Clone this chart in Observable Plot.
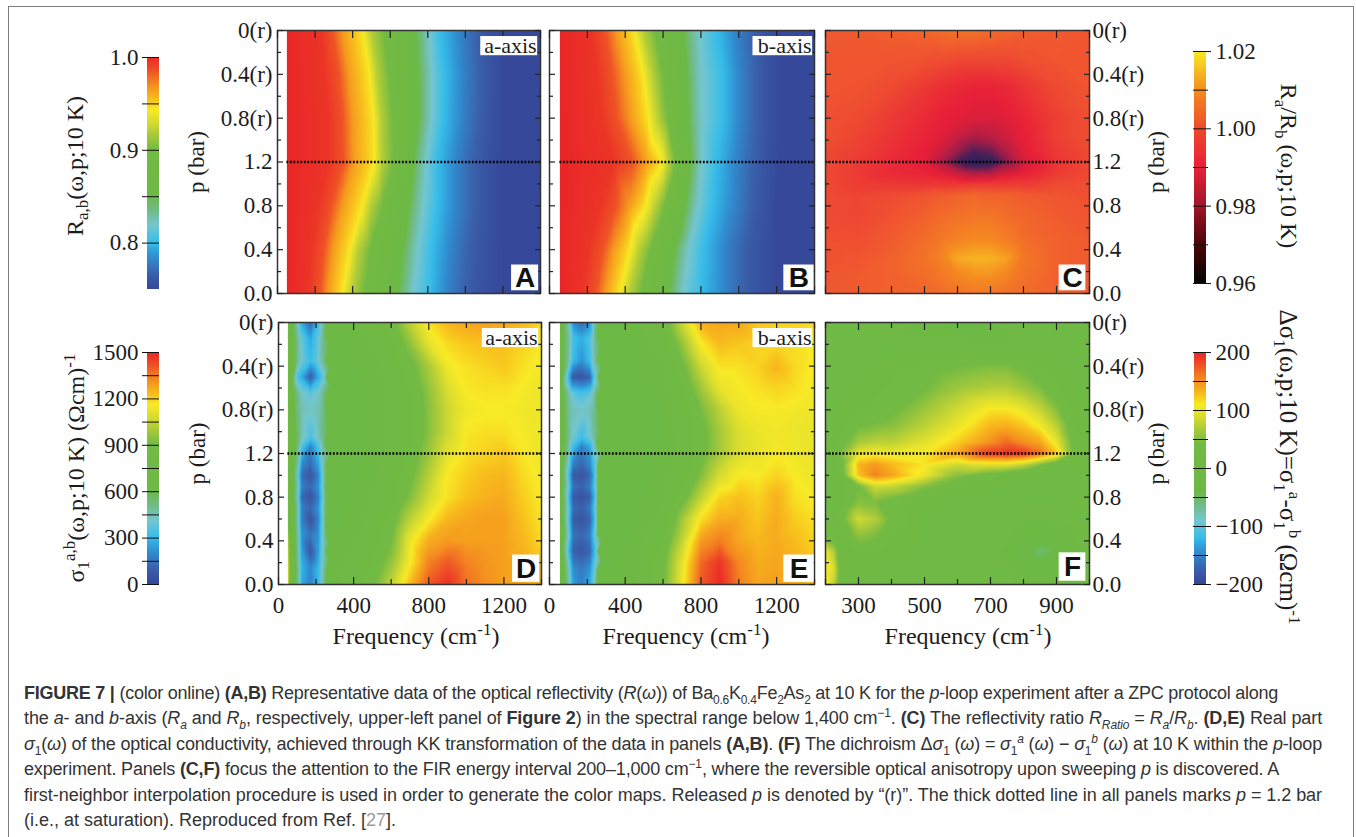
<!DOCTYPE html>
<html><head><meta charset="utf-8">
<script src="https://cdn.jsdelivr.net/npm/d3@7"></script>
<script src="https://cdn.jsdelivr.net/npm/@observablehq/plot@0.6"></script>
<style>
html,body{margin:0;padding:0;background:#fff;}
#root{position:relative;width:1356px;height:837px;overflow:hidden;background:#fff;}
#root svg{position:absolute;overflow:visible;background:transparent;}
.edge{position:absolute;left:8px;top:6px;width:1346px;height:900px;border:1.5px solid #7d7d7d;box-sizing:border-box;}
.t{position:absolute;font-family:"Liberation Serif",serif;font-size:24px;color:#1c1c1c;white-space:nowrap;transform-origin:center;}
.t sub,.t sup{font-size:17px;line-height:0;}
.c{position:absolute;left:24px;font-family:"Liberation Sans",Arial,sans-serif;font-size:18px;color:#333;white-space:nowrap;line-height:20px;}
.c sub,.c sup{font-size:12px;line-height:0;}
</style></head><body><div id="root"><div class="edge"></div></div>
<script>
// ---- shared ticks
const pTicks=[0,0.4,0.8,1.2,1.6,2.0,2.4];
const pLabels=["0.0","0.4","0.8","1.2","0.8(r)","0.4(r)","0(r)"];
const pMinor=[0.2,0.6,1.0,1.4,1.8,2.2];
const wideMajor=[0,400,800,1200];
const wideMinor=[200,600,1000,1400];
const zoomMajor=[300,500,700,900];
const zoomMinor=[200,400,600,800,1000];

// ---- colour ramps (position along the colour bar, colour)
const rainbowStops=[0,.07,.14,.2,.27,.34,.4,.6,.66,.72,.77,.81,.87,.93,1];
const rainbowColors=["#36489a","#3a62ad","#3090d2","#36bdea","#74c6d0","#70bb86","#6cb945","#72ba43","#a6c93a","#d7dc30","#f8ea26","#f8c41d","#f5931f","#ef5a25","#ea2527"];
const ratioBarStops=[.96,.97,.98,.99,1.0,1.01,1.02];
const ratioBarColors=["#050505","#4a0608","#a2162a","#e8203a","#ee4a2a","#f58e20","#f8ea26"];
const ratioMapStops=[.962,.972,.98,.99,1.0,1.01,1.02];
const ratioMapColors=["#1d2060","#4a2058","#a31d48","#e81f38","#f05530","#f58e20","#f8ea26"];

// ---- panels A and B: frequency at which each reflectivity level is reached, for each p node
const rLevels=[1.0,.995,.985,.965,.945,.92,.90,.87,.84,.82,.80,.78,.76,.75,.75];
const rFreqA=[
[50,50,50,50,50,50,50],
[165,180,215,270,270,250,232],
[225,245,285,350,345,325,290],
[270,295,345,405,400,380,347],
[341,378,445,510,505,482,446],
[395,430,495,555,550,530,499],
[465,495,560,620,615,595,565],
[590,615,650,700,710,700,698],
[665,690,720,740,770,770,755],
[715,740,770,785,815,815,802],
[812,822,851,851,885,889,868],
[905,925,955,955,985,990,973],
[1050,1070,1090,1090,1115,1120,1105],
[1200,1200,1200,1200,1200,1200,1200],
[1400,1400,1400,1400,1400,1400,1400]];
const rFreqB=[
[55,55,55,55,55,55,55],
[175,205,265,340,270,250,226],
[245,280,350,435,355,330,295],
[295,340,420,505,430,400,355],
[364,419,502,590,516,488,441],
[420,475,560,630,575,545,495],
[485,535,610,665,625,600,557],
[590,625,680,720,700,680,670],
[650,680,735,760,750,745,730],
[700,730,780,800,800,795,785],
[800,815,861,880,916,916,885],
[930,930,980,990,1010,1010,985],
[1075,1075,1110,1120,1130,1130,1120],
[1200,1200,1210,1220,1230,1230,1220],
[1400,1400,1400,1400,1400,1400,1400]];

// ---- panel C
const ratioFreq=[200,300,400,500,550,600,650,700,750,800,900,1000];
const ratioP=[0,.15,.32,.5,.7,.9,1,1.1,1.2,1.3,1.45,1.6,1.9,2.15,2.4];
const ratioVals=[
[1.001,1.001,1.002,1.003,1.004,1.005,1.006,1.006,1.005,1.004,1.002,1.001],
[1.000,1.001,1.002,1.004,1.006,1.008,1.010,1.010,1.008,1.005,1.002,1.001],
[.999,1.000,1.002,1.005,1.008,1.013,1.014,1.014,1.012,1.006,1.002,1.001],
[.999,.9985,1.001,1.004,1.006,1.008,1.009,1.009,1.007,1.004,1.002,1.001],
[.998,.9975,.9995,1.002,1.004,1.005,1.006,1.006,1.004,1.003,1.001,1.000],
[.998,.997,.998,.9995,1.001,1.002,1.003,1.002,1.002,1.001,1.000,.999],
[.998,.9955,.9945,.994,.994,.9945,.995,.995,.995,.995,.998,.999],
[.998,.995,.992,.991,.989,.985,.981,.982,.987,.990,.995,.998],
[.998,.995,.992,.989,.982,.972,.965,.967,.977,.987,.994,.998],
[.998,.996,.993,.99,.986,.979,.973,.975,.982,.989,.995,.998],
[.999,.997,.994,.991,.989,.986,.983,.984,.987,.990,.996,.999],
[.999,.998,.995,.992,.99,.989,.988,.988,.989,.991,.996,.999],
[1.000,.9995,.998,.995,.993,.992,.991,.991,.992,.994,.998,1.000],
[1.000,1.000,1.000,.9995,.999,.998,.998,.998,.998,.999,1.000,1.000],
[1.001,1.001,1.002,1.003,1.004,1.005,1.005,1.004,1.003,1.002,1.001,1.000]];

// ---- panels D and E: low-frequency column
const colFreq=[50,65,100,125,170,212,235,260];
const colP=[0,.15,.31,.45,.6,.7,.8,.9,1,1.1,1.25,1.35,1.6,1.75,1.9,2.05,2.25,2.4];
const colD=[
[1080,780,520,260,180,300,440,640],
[1100,800,520,280,190,290,430,640],
[1060,780,500,230,70,240,420,640],
[1000,760,500,210,150,220,420,640],
[800,720,460,170,60,190,400,640],
[760,700,490,170,120,220,420,640],
[760,700,440,120,60,180,390,640],
[760,700,480,170,120,220,420,640],
[760,700,440,130,60,190,400,640],
[760,700,490,200,130,250,430,640],
[760,700,530,320,170,330,460,640],
[760,710,560,440,340,440,500,640],
[760,700,520,450,420,450,500,630],
[760,690,510,420,370,420,490,630],
[760,680,340,260,90,270,360,630],
[760,690,500,400,310,400,490,630],
[760,690,500,380,260,380,490,630],
[760,680,440,260,120,320,470,620]];
const colE=[
[800,680,470,240,180,260,420,640],
[780,660,440,200,160,210,370,640],
[780,650,330,100,70,110,280,630],
[780,660,410,150,120,170,350,630],
[780,650,360,90,60,110,280,630],
[760,640,380,130,100,160,320,630],
[760,640,330,80,50,100,270,630],
[760,640,390,140,110,170,320,630],
[760,640,340,80,60,120,280,630],
[760,650,400,170,120,190,330,630],
[760,650,470,300,170,240,400,630],
[760,660,500,400,310,400,470,630],
[760,650,490,440,420,440,480,620],
[760,650,470,370,330,370,470,620],
[760,620,300,80,60,110,340,620],
[760,650,470,300,220,310,460,620],
[760,650,480,330,270,340,470,620],
[760,650,450,200,130,200,440,620]];

// ---- panels D and E: rest of the spectrum
const bgFreq=[280,450,600,700,800,900,1000,1100,1200,1300,1400];
const bgP=[0,.2,.4,.6,.8,1,1.2,1.4,1.6,1.8,2,2.2,2.4];
const bgD=[
[700,820,1040,1230,1400,1480,1360,1310,1280,1270,1240],
[680,780,960,1150,1330,1400,1330,1300,1280,1260,1220],
[660,740,900,1130,1260,1290,1280,1280,1280,1240,1180],
[650,720,850,1030,1150,1240,1270,1280,1280,1220,1160],
[640,700,800,930,1070,1170,1220,1250,1260,1200,1150],
[640,680,770,880,1020,1160,1200,1230,1240,1180,1140],
[640,670,740,840,970,1110,1170,1190,1210,1160,1130],
[640,670,730,810,940,1060,1160,1170,1170,1150,1130],
[640,670,730,800,940,1060,1140,1150,1150,1140,1130],
[640,670,740,830,960,1090,1160,1170,1170,1150,1130],
[640,680,760,870,1000,1140,1170,1190,1210,1170,1140],
[640,700,810,950,1110,1180,1210,1220,1220,1190,1150],
[660,740,850,1030,1170,1240,1270,1280,1260,1230,1180]];
const bgE=[
[650,720,900,1130,1400,1490,1340,1270,1280,1250,1220],
[640,700,880,1110,1370,1470,1320,1260,1270,1240,1210],
[630,680,830,1040,1290,1340,1270,1240,1260,1230,1190],
[630,660,760,980,1170,1260,1260,1210,1260,1200,1170],
[630,650,710,860,1040,1190,1220,1190,1250,1170,1150],
[630,640,680,790,930,1080,1160,1150,1190,1150,1130],
[620,610,670,760,870,990,1090,1120,1150,1130,1120],
[630,640,670,760,870,990,1090,1130,1140,1130,1120],
[630,640,670,780,910,1030,1130,1150,1150,1140,1130],
[630,650,690,820,980,1120,1150,1170,1190,1170,1140],
[630,650,720,880,1060,1170,1170,1190,1240,1180,1150],
[630,670,770,960,1150,1230,1210,1190,1190,1170,1150],
[640,700,830,1060,1250,1270,1270,1210,1190,1190,1170]];

// ---- panel F
const dichroFreq=[200,225,250,300,350,400,500,600,700,750,800,850,900,950,1000];
const dichroP=[0,.15,.3,.45,.6,.75,.9,1,1.1,1.2,1.3,1.45,1.6,1.8,2,2.2,2.4];
const dichroVals=[
[110,80,10,0,0,0,0,0,0,0,-5,-10,-5,0,0],
[110,90,15,10,10,5,0,0,0,0,-20,-30,-20,-5,0],
[100,70,10,25,25,10,0,0,0,-10,-35,-55,-40,-10,0],
[30,20,25,55,45,20,5,0,0,0,-20,-30,-20,-5,0],
[5,5,35,85,70,35,5,0,0,0,-5,-5,0,0,0],
[0,5,20,50,45,30,10,0,0,0,0,0,0,0,0],
[0,5,15,40,85,80,50,30,10,5,0,0,0,0,0],
[0,10,30,125,155,140,100,50,30,20,10,5,0,0,0],
[0,10,35,130,145,130,110,85,95,95,80,50,20,5,0],
[0,15,50,100,105,100,110,140,190,195,190,165,125,40,5],
[0,10,30,65,75,75,95,120,150,165,150,140,100,35,5],
[0,5,20,40,45,50,75,100,130,135,125,105,75,25,5],
[0,5,10,20,30,35,60,85,110,110,100,80,50,15,0],
[0,0,5,10,15,25,40,60,70,70,60,45,25,10,0],
[0,0,0,5,10,15,30,40,45,45,35,25,10,0,0],
[0,0,0,0,0,0,0,0,-5,-5,0,0,0,0,0],
[0,0,0,0,0,-5,-15,-45,-35,-5,0,0,0,0,0]];

// ---- colour bar ticks
const barA={lo:.75,hi:1.0,major:[.8,.9,1.0],minor:[.85,.95],fmt:d=>d.toFixed(1)};
const barD={lo:0,hi:1500,major:[0,300,600,900,1200,1500],minor:[150,450,750,1050,1350],fmt:d=>String(d)};
const barC={lo:.96,hi:1.02,major:[.96,.98,1.0,1.02],minor:[.97,.99,1.01],fmt:d=>d.toFixed(2)};
const barF={lo:-200,hi:200,major:[-200,-100,0,100,200],minor:[-150,-50,50,150],fmt:d=>d<0?"\u2212"+(-d):String(d)};

const root=document.getElementById("root");
const serif='"Liberation Serif",serif';

function grid(freq,ps,rows){
  return rows.flatMap((r,i)=>r.map((v,j)=>({f:freq[j],p:ps[i],v})));
}
function iso(levels,ps,rows){
  return rows.flatMap((r,i)=>r.map((f,j)=>({f,p:ps[j],v:levels[i]})));
}
function ramp(lo,hi,stops){return stops.map(s=>lo+s*(hi-lo));}

function panel(o){
  const ml=100,mr=80,mt=14,mb=o.xlabels?40:14;
  const W=o.x1-o.x0+ml+mr,H=o.y1-o.y0+mt+mb;
  const tx=(ticks,size,anchor,text)=>Plot.axisX(ticks,{anchor,tickSize:-size,tickPadding:size+12,label:null,
    text:text?undefined:null,tickFormat:text?(d=>String(d)):undefined,stroke:"#222",strokeWidth:1.2});
  const ty=(ticks,size,anchor,text)=>Plot.axisY(ticks,{anchor,tickSize:-size,tickPadding:size+(anchor==="right"?3:5),label:null,
    text:text?undefined:null,tickFormat:text?(d=>pLabels[pTicks.indexOf(d)]):undefined,stroke:"#222",strokeWidth:1.2});
  const marks=[
    Plot.raster(o.points,{x:"f",y:"p",fill:"v",interpolate:"barycentric",x1:o.start,x2:o.domain[1],y1:0,y2:2.4}),
    Plot.ruleY([1.2],{x1:o.start,x2:o.domain[1],stroke:"#000",strokeWidth:2.4,strokeDasharray:"1.8 1.7"}),
    Plot.frame({stroke:"#333",strokeWidth:1.5}),
    tx(o.major,7,"bottom",o.xlabels),tx(o.minor,5,"bottom",false),
    tx(o.major,7,"top",false),tx(o.minor,5,"top",false),
    ty(pTicks,6,"left",o.yLeft),ty(pMinor,4,"left",false),
    ty(pTicks,6,"right",o.yRight),ty(pMinor,4,"right",false),
    Plot.rect([0],{x1:o.nameBox[0],x2:o.nameBox[1],y1:2.17,y2:2.345,fill:"white"}),
    Plot.text([o.name],{x:o.nameBox[1],y:2.255,text:d=>d,textAnchor:"end",fontSize:22,dx:-1,fill:"#1c1c1c"}),
    Plot.rect([0],{x1:o.letterBox[0],x2:o.letterBox[1],y1:o.letterBox[2],y2:o.letterBox[3],fill:"white"}),
    Plot.text([o.letter],{x:(o.letterBox[0]+o.letterBox[1])/2,y:(o.letterBox[2]+o.letterBox[3])/2,text:d=>d,
      fontSize:28,fontWeight:"bold",fontFamily:'"Liberation Sans",Arial,sans-serif',fill:"#111"})
  ];
  if(!o.name) marks.splice(11,2);
  if(o.pLabel==="left") marks.push(Plot.axisY({anchor:"left",ticks:[],label:"p (bar)",labelAnchor:"center",labelArrow:"none",labelOffset:90,tickSize:0}));
  if(o.pLabel==="right") marks.push(Plot.axisY({anchor:"right",ticks:[],label:"p (bar)",labelAnchor:"center",labelArrow:"none",labelOffset:74,tickSize:0}));
  const svg=Plot.plot({width:W,height:H,marginLeft:ml,marginRight:mr,marginTop:mt,marginBottom:mb,
    style:{fontFamily:serif,fontSize:"23px",color:"#1c1c1c",background:"transparent",overflow:"visible"},
    x:{domain:o.domain},y:{domain:[0,2.4]},
    color:o.color,marks});
  svg.style.left=(o.x0-ml)+"px";svg.style.top=(o.y0-mt)+"px";
  root.appendChild(svg);
}

function colorBar(o){
  const left=o.side==="left";
  const ml=left?50:5,mr=left?5:60,mt=15,mb=15;
  const W=o.x1-o.x0+ml+mr,H=o.y1-o.y0+mt+mb;
  const b=o.bar,step=(b.hi-b.lo)/240;
  const levels=d3.range(b.lo,b.hi-step/2,step);
  const xd=left?[-5/12,1]:[-1/12,17/12];
  const svg=Plot.plot({width:W,height:H,marginLeft:ml,marginRight:mr,marginTop:mt,marginBottom:mb,
    style:{fontFamily:serif,fontSize:"23px",color:"#1c1c1c",background:"transparent",overflow:"visible"},
    x:{domain:xd,axis:null},y:{domain:[b.lo,b.hi]},color:o.color,
    marks:[
      Plot.rect(levels,{x1:0,x2:1,y1:d=>d,y2:d=>d+step*1.05,fill:d=>d,shapeRendering:"crispEdges"}),
      Plot.ruleY(b.minor,{x1:left?-5/12:-1/12,x2:left?1:7/6,stroke:"#111",strokeWidth:1}),
      Plot.ruleY(b.major,{x1:left?-5/12:-1/12,x2:left?1:17/12,stroke:"#111",strokeWidth:1}),
      Plot.axisY(b.major,{anchor:o.side,tickSize:0,tickPadding:4,tickFormat:b.fmt,label:null})
    ]});
  svg.style.left=(o.x0-ml)+"px";svg.style.top=(o.y0-mt)+"px";
  root.appendChild(svg);
}

function label(html,cx,cy,rot,size){
  const d=document.createElement("div");d.className="t";d.innerHTML=html;
  d.style.left=cx+"px";d.style.top=cy+"px";
  if(size) d.style.fontSize=size+"px";
  d.style.transform=`translate(-50%,-50%) rotate(${rot}deg)`;
  root.appendChild(d);
}

const rainbow=(lo,hi)=>({type:"linear",domain:ramp(lo,hi,rainbowStops),range:rainbowColors,clamp:true});
const ratioMap={type:"linear",domain:ratioMapStops,range:ratioMapColors,clamp:true};
const ratioBar={type:"linear",domain:ratioBarStops,range:ratioBarColors,clamp:true};
const rowTop={y0:30,y1:293},rowBot={y0:322,y1:584};

panel({...rowTop,x0:277,x1:540,domain:[0,1400],start:50,major:d3.sort([...wideMajor,...wideMinor]),minor:[],points:iso(rLevels,pTicks,rFreqA),color:rainbow(.75,1),yLeft:true,pLabel:"left",name:"a-axis",nameBox:[1082,1385],letter:"A",letterBox:[1246,1390,.025,.26]});
panel({...rowTop,x0:549,x1:814,domain:[0,1400],start:55,major:d3.sort([...wideMajor,...wideMinor]),minor:[],points:iso(rLevels,pTicks,rFreqB),color:rainbow(.75,1),name:"b-axis",nameBox:[1075,1390],letter:"B",letterBox:[1238,1398,.025,.26]});
panel({...rowTop,x0:825,x1:1089,domain:[200,1000],start:200,major:d3.sort([...zoomMajor,...zoomMinor]),minor:[],points:grid(ratioFreq,ratioP,ratioVals),color:ratioMap,yRight:true,pLabel:"right",name:"",nameBox:[0,0],letter:"C",letterBox:[908,989,.025,.26]});
panel({...rowBot,x0:278,x1:541,domain:[0,1400],start:50,major:wideMajor,minor:wideMinor,xlabels:true,points:[...grid(colFreq,colP,colD),...grid(bgFreq,bgP,bgD)],color:rainbow(0,1500),yLeft:true,pLabel:"left",name:"a-axis",nameBox:[1085,1385],letter:"D",letterBox:[1246,1390,.02,.27]});
panel({...rowBot,x0:549,x1:814,domain:[0,1400],start:55,major:wideMajor,minor:wideMinor,xlabels:true,points:[...grid(colFreq.map(f=>f<55?55:f),colP,colE),...grid(bgFreq,bgP,bgE)],color:rainbow(0,1500),name:"b-axis",nameBox:[1075,1390],letter:"E",letterBox:[1238,1398,.02,.27]});
panel({...rowBot,x0:825,x1:1089,domain:[200,1000],start:200,major:zoomMajor,minor:zoomMinor,xlabels:true,points:grid(dichroFreq,dichroP,dichroVals),color:rainbow(-200,200),yRight:true,pLabel:"right",name:"",nameBox:[0,0],letter:"F",letterBox:[908,989,.03,.29]});

colorBar({x0:142,x1:159,y0:57,y1:289,side:"left",bar:barA,color:rainbow(.75,1)});
colorBar({x0:142,x1:159,y0:352,y1:584,side:"left",bar:barD,color:rainbow(0,1500)});
colorBar({x0:1193,x1:1211,y0:51,y1:283,side:"right",bar:barC,color:ratioBar});
colorBar({x0:1193,x1:1211,y0:352,y1:584,side:"right",bar:barF,color:rainbow(-200,200)});

label('R<sub>a,b</sub>(\u03c9,p;10 K)',75,166,-90);
label('\u03c3<sub>1</sub><sup>a,b</sup>(\u03c9,p;10 K) (\u03a9cm)<sup>-1</sup>',76,468,-90);
label('R<sub>a</sub>/R<sub>b</sub> (\u03c9,p;10 K)',1288,166,90);
label('\u0394\u03c3<sub>1</sub>(\u03c9,p;10 K)=\u03c3<sub>1</sub><sup>a</sup>-\u03c3<sub>1</sub><sup>b</sup> (\u03a9cm)<sup>-1</sup>',1288,467,90,25);
label('Frequency (cm<sup>-1</sup>)',416,636,0);
label('Frequency (cm<sup>-1</sup>)',686,636,0);
label('Frequency (cm<sup>-1</sup>)',968,636,0);

const captionLines=[
'<b>FIGURE 7 |</b> (color online) <b>(A,B)</b> Representative data of the optical reflectivity (<i>R</i>(<i>\u03c9</i>)) of Ba<sub>0.6</sub>K<sub>0.4</sub>Fe<sub>2</sub>As<sub>2</sub> at 10 K for the <i>p</i>-loop experiment after a ZPC protocol along',
'the <i>a</i>- and <i>b</i>-axis (<i>R<sub>a</sub></i> and <i>R<sub>b</sub></i>, respectively, upper-left panel of <b>Figure 2</b>) in the spectral range below 1,400 cm<sup>\u22121</sup>. <b>(C)</b> The reflectivity ratio <i>R<sub>Ratio</sub></i> = <i>R<sub>a</sub></i>/<i>R<sub>b</sub></i>. <b>(D,E)</b> Real part',
'<i>\u03c3</i><sub>1</sub>(<i>\u03c9</i>) of the optical conductivity, achieved through KK transformation of the data in panels <b>(A,B)</b>. <b>(F)</b> The dichroism \u0394<i>\u03c3</i><sub>1</sub> (<i>\u03c9</i>) = <i>\u03c3</i><sub>1</sub><sup><i>a</i></sup> (<i>\u03c9</i>) \u2212 <i>\u03c3</i><sub>1</sub><sup><i>b</i></sup> (<i>\u03c9</i>) at 10 K within the <i>p</i>-loop',
'experiment. Panels <b>(C,F)</b> focus the attention to the FIR energy interval 200\u20131,000 cm<sup>\u22121</sup>, where the reversible optical anisotropy upon sweeping <i>p</i> is discovered. A',
'first-neighbor interpolation procedure is used in order to generate the color maps. Released <i>p</i> is denoted by \u201c(r)\u201d. The thick dotted line in all panels marks <i>p</i> = 1.2 bar',
'(i.e., at saturation). Reproduced from Ref. [<span style="color:#9a9a9a">27</span>].'];
const captionEnds=[1278,1322,1322,1279,1322,396];
captionLines.forEach((html,i)=>{
  const d=document.createElement("div");d.className="c";d.innerHTML=html;
  d.style.top=(683+i*25.4)+"px";
  root.appendChild(d);
  const n=d.textContent.length,w=d.getBoundingClientRect().width;
  d.style.letterSpacing=((captionEnds[i]-24-w)/n)+"px";
});
</script></body></html>
